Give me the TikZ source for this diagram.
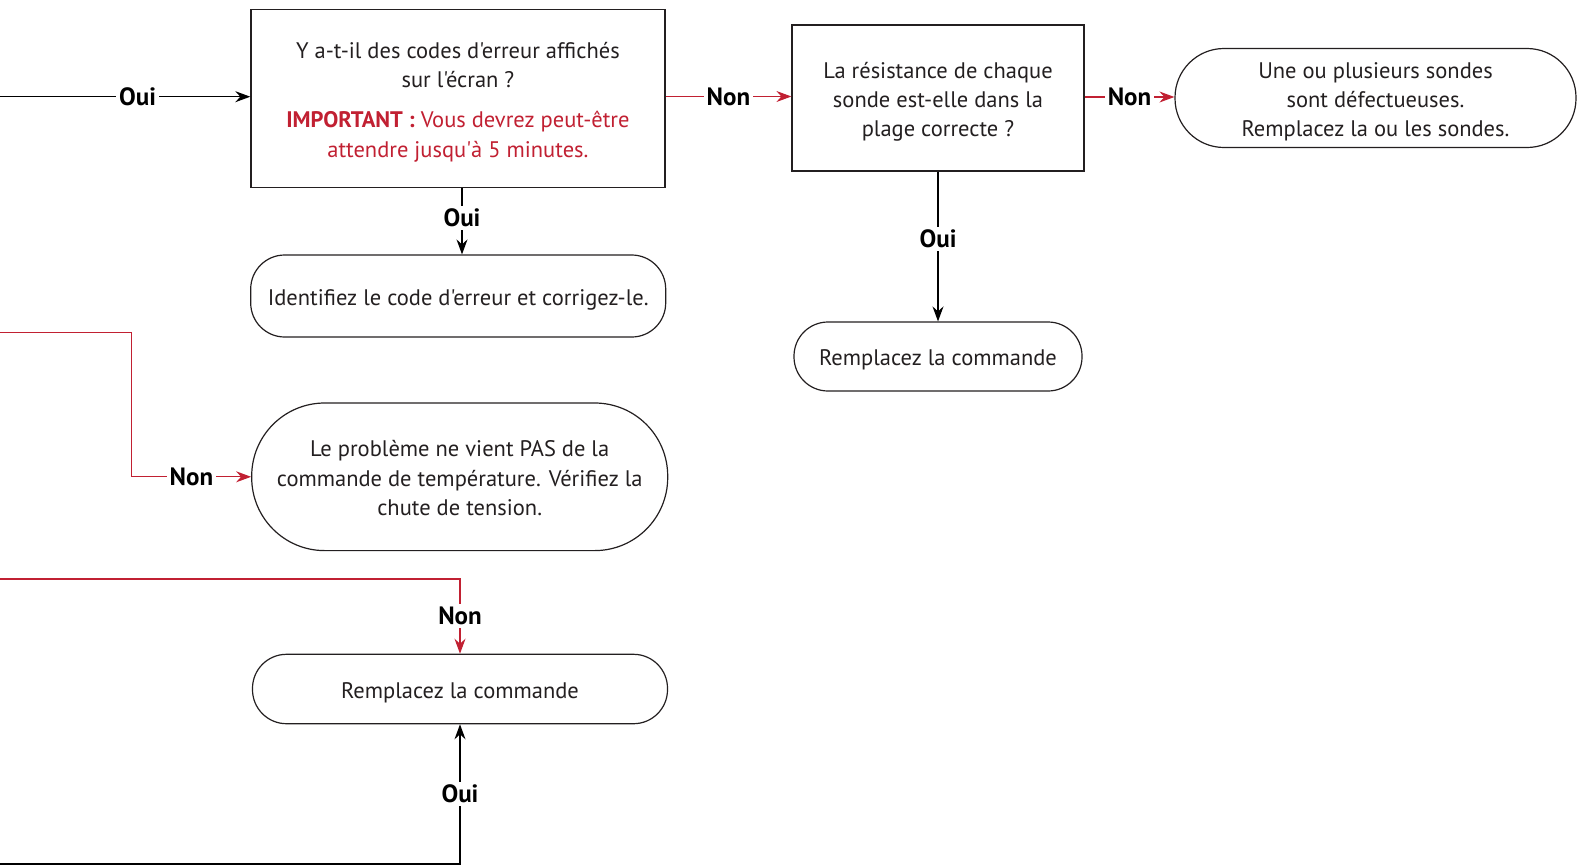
\documentclass[tikz,border=0pt]{standalone}
\usepackage{fontspec}
\newfontfamily\txtfont{PT Sans}
\usetikzlibrary{arrows.meta}
\definecolor{alertred}{RGB}{193,32,50}
\definecolor{ink}{RGB}{35,31,32}
% centred lines of text, set a little below the optical centre of the box
\newcommand\boxtext[1]{\raisebox{-3.5pt}[\height][\depth]{\begin{tabular}{@{}c@{}}#1\end{tabular}}}

\begin{document}
\begin{tikzpicture}[x=1pt,y=-1pt,
  box/.style={draw=ink, line width=1.2pt, rectangle, inner sep=0pt,
    font=\txtfont\fontsize{22.5}{29.3}\selectfont, text=ink},
  term/.style={box, rounded corners=#1},
  lbl/.style={fill=white, inner sep=3pt, font=\txtfont\bfseries\fontsize{25}{28}\selectfont, text=black},
  tip/.style={-{Stealth[length=15pt,width=11pt,inset=5pt]}},
  yes/.style={draw=black, line width=1.2pt, tip},
  no/.style={draw=alertred, line width=1.2pt, tip},
]
\useasboundingbox (0,0) rectangle (1584,865);

% decision boxes
\node[box, minimum width=414pt, minimum height=178pt] (q1) at (457.9,98.3)
  {\boxtext{Y a-t-il des codes d'erreur affichés\\ sur l'écran ?\\[11pt]
   \textcolor{alertred}{\textbf{IMPORTANT :} Vous devrez peut-être}\\
   \textcolor{alertred}{attendre jusqu'à 5 minutes.}}};
\node[box, minimum width=292pt, minimum height=146pt] (q2) at (938,98)
  {\boxtext{La résistance de chaque\\ sonde est-elle dans la\\ plage correcte ?}};

% end states
\node[term=49pt, minimum width=401pt, minimum height=99pt] (t3) at (1375.5,98)
  {\boxtext{Une ou plusieurs sondes\\ sont défectueuses.\\ Remplacez la ou les sondes.}};
\node[term=34pt, minimum width=415pt, minimum height=82pt] (id) at (458.2,296)
  {\boxtext{Identifiez le code d'erreur et corrigez-le.}};
\node[term=34pt, minimum width=288pt, minimum height=69pt] (r2) at (938,356.5)
  {\boxtext{Remplacez la commande}};
\node[term=73pt, minimum width=416pt, minimum height=147.6pt] (pb) at (459.7,476.8)
  {\boxtext{Le problème ne vient PAS de la\\ commande de température. Vérifiez la\\ chute de tension.}};
\node[term=34pt, minimum width=415pt, minimum height=69.4pt] (r1) at (460,689)
  {\boxtext{Remplacez la commande}};

% incoming branches
\coordinate (inA) at (0,96.7);
\coordinate (inB) at (0,332.7);
\coordinate (inC) at (0,579);
\coordinate (inD) at (0,864);

\draw[yes] (inA) -- node[pos=0.55,lbl]{Oui} (inA -| q1.west);
\draw[no] (q1.east |- 0,96.5) -- node[lbl]{Non} (q2.west |- 0,96.5);
\draw[no] (q2.east |- 0,97) -- node[lbl]{Non} (t3.west |- 0,97);
\draw[yes] (q1.south -| 462,0) -- node[pos=0.45,lbl]{Oui} (id.north -| 462,0);
\draw[yes] (q2.south) -- node[pos=0.45,lbl]{Oui} (r2.north);
\draw[no] (inB) -- ++(131.7,0) |- node[pos=0.75,lbl]{Non} (pb.west);
\draw[no] (inC) -| node[pos=0.75,lbl]{Non} (r1.north);
\draw[yes] (inD) -| node[pos=0.75,lbl]{Oui} (r1.south);
\end{tikzpicture}
\end{document}
